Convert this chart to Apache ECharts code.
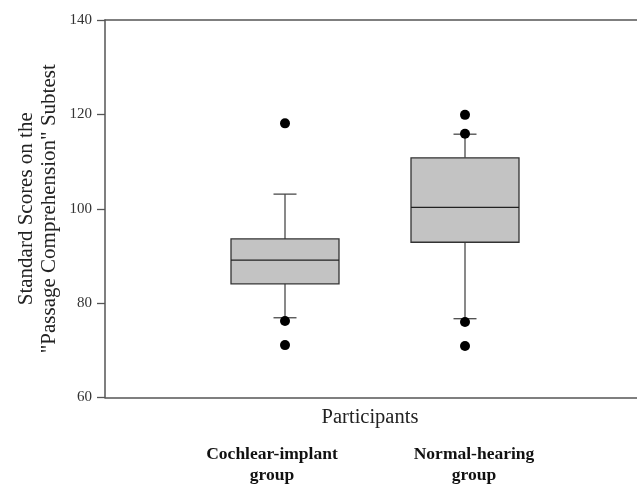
<!DOCTYPE html>
<html>
<head>
<meta charset="utf-8">
<script src="https://cdn.jsdelivr.net/npm/echarts@6/dist/echarts.min.js"></script>
<style>
html,body{margin:0;padding:0;background:#fff;}
#chart{width:637px;height:484px;}
</style>
</head>
<body>
<div id="chart"></div>
<script>
// ---- data ----
const categories = ['Cochlear-implant\ngroup', 'Normal-hearing\ngroup'];
const positions = [1, 2];
// [lower whisker, Q1, median, Q3, upper whisker]
const cochlearBox = [76.9, 84.1, 89.1, 93.6, 103.1];
const normalBox = [76.7, 92.9, 100.3, 110.8, 115.8];
const cochlearOutliers = [118.1, 76.2, 71.1];
const normalOutliers = [119.9, 115.9, 76.0, 70.9];
const yTicks = [60, 80, 100, 120, 140];
const yTitle = 'Standard Scores on the\n"Passage Comprehension" Subtest';
const xTitle = 'Participants';

const FONT = "'Liberation Serif', 'Times New Roman', serif";
const labelStyles = ['a', 'b'];

const boxData = [
  [positions[0]].concat(cochlearBox),
  [positions[1]].concat(normalBox)
];
const outlierData = cochlearOutliers.map(v => [positions[0], v])
  .concat(normalOutliers.map(v => [positions[1], v]));

function renderBox(params, api) {
  const x = api.value(0);
  const lo = api.coord([x, api.value(1)]);
  const q1 = api.coord([x, api.value(2)]);
  const med = api.coord([x, api.value(3)]);
  const q3 = api.coord([x, api.value(4)]);
  const hi = api.coord([x, api.value(5)]);
  const band = api.size([1, 0])[0];
  const hw = band * 0.3;
  const cw = 11.5;
  const cx = q1[0];
  const lineStyle = { stroke: '#4a4a4a', lineWidth: 1.3 };
  return {
    type: 'group',
    children: [
      { type: 'line', shape: { x1: cx, y1: hi[1], x2: cx, y2: q3[1] }, style: lineStyle },
      { type: 'line', shape: { x1: cx, y1: q1[1], x2: cx, y2: lo[1] }, style: lineStyle },
      { type: 'line', shape: { x1: cx - cw, y1: hi[1], x2: cx + cw, y2: hi[1] }, style: lineStyle },
      { type: 'line', shape: { x1: cx - cw, y1: lo[1], x2: cx + cw, y2: lo[1] }, style: lineStyle },
      { type: 'rect', shape: { x: cx - hw, y: q3[1], width: hw * 2, height: q1[1] - q3[1] },
        style: { fill: '#c3c3c3', stroke: '#333', lineWidth: 1.3 } },
      { type: 'line', shape: { x1: cx - hw, y1: med[1], x2: cx + hw, y2: med[1] },
        style: { stroke: '#222', lineWidth: 1.3 } }
    ]
  };
}

const labelTextBase = { fontFamily: FONT, fontSize: 17.5, fontWeight: 'bold', color: '#111', lineHeight: 21 };

const chart = echarts.init(document.getElementById('chart'), null, { renderer: 'canvas' });
chart.setOption({
  animation: false,
  backgroundColor: '#fff',
  grid: { left: 105, top: 20, bottom: 86.5, right: -8, outerBoundsMode: 'none', containLabel: false },
  xAxis: [{
    type: 'value', min: 0, max: 3, interval: 1, position: 'bottom',
    axisLine: { show: true, lineStyle: { color: '#555', width: 1.5 } },
    axisTick: { show: false },
    splitLine: { show: false },
    name: xTitle, nameLocation: 'middle', nameGap: 10, nameMoveOverlap: false,
    nameTextStyle: { fontFamily: FONT, fontSize: 20.5, color: '#222', verticalAlign: 'top', padding: [0, 10, 0, 0] },
    axisLabel: {
      margin: 46, fontFamily: FONT, fontSize: 17.5, fontWeight: 'bold', color: '#111',
      lineHeight: 21, verticalAlign: 'top',
      formatter: function (v) {
        const i = positions.indexOf(v);
        if (i < 0) return '';
        const s = labelStyles[i];
        return categories[i].split('\n').map(t => '{' + s + '|' + t + '}').join('\n');
      },
      rich: {
        a: Object.assign({ padding: [0, 26, 0, 0] }, labelTextBase),
        b: Object.assign({ padding: [0, 0, 0, 18] }, labelTextBase)
      }
    }
  }, {
    type: 'value', min: 0, max: 3, position: 'top',
    axisLine: { show: true, lineStyle: { color: '#555', width: 1.5 } },
    axisTick: { show: false }, axisLabel: { show: false }, splitLine: { show: false }
  }],
  yAxis: {
    type: 'value', min: yTicks[0], max: yTicks[yTicks.length - 1], interval: 20,
    axisLine: { show: true, lineStyle: { color: '#555', width: 1.5 } },
    axisTick: { show: true, inside: false, length: 8, lineStyle: { color: '#555', width: 1.3 } },
    splitLine: { show: false },
    axisLabel: { margin: 13, fontFamily: FONT, fontSize: 15, color: '#333' },
    name: yTitle, nameLocation: 'middle', nameRotate: 90, nameGap: 44, nameMoveOverlap: false,
    nameTextStyle: { fontFamily: FONT, fontSize: 21, color: '#222', lineHeight: 23, align: 'center' }
  },
  series: [{
    type: 'custom',
    renderItem: renderBox,
    data: boxData,
    encode: { x: 0, y: [1, 2, 3, 4, 5] },
    z: 2
  }, {
    type: 'scatter',
    data: outlierData,
    symbol: 'circle',
    symbolSize: 10,
    itemStyle: { color: '#000', opacity: 1 },
    z: 3
  }]
});
</script>
</body>
</html>
